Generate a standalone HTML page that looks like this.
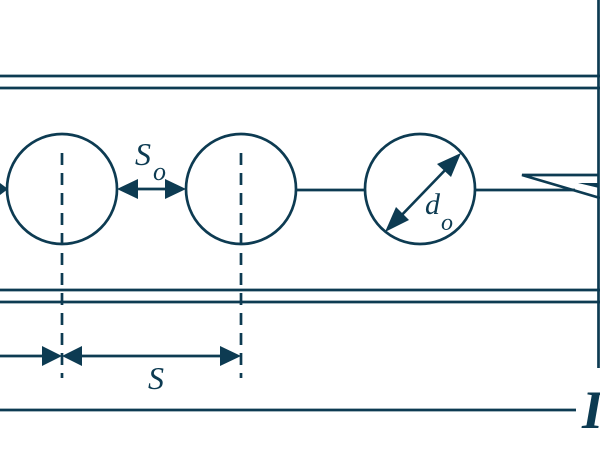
<!DOCTYPE html>
<html><head><style>html,body{margin:0;padding:0;background:#fff;width:600px;height:450px;overflow:hidden}</style></head>
<body>
<svg width="600" height="450" xmlns="http://www.w3.org/2000/svg">
<g stroke="#0d3b52" stroke-width="2.7" fill="none">
<line x1="0" y1="76" x2="600" y2="76"/>
<line x1="0" y1="88" x2="600" y2="88"/>
<line x1="0" y1="290" x2="600" y2="290"/>
<line x1="0" y1="302" x2="600" y2="302"/>
<line x1="598.5" y1="0" x2="598.5" y2="368"/>
<line x1="0" y1="410" x2="576" y2="410"/>
<circle cx="62" cy="189" r="55"/>
<circle cx="241" cy="189" r="55"/>
<circle cx="420" cy="189" r="55"/>
<line x1="296" y1="190" x2="365" y2="190"/>
<line x1="475" y1="190" x2="575" y2="190"/>
<polyline points="598,175 522,175 600,198"/>
<line x1="0" y1="189" x2="5" y2="189"/>
<line x1="62" y1="153" x2="62" y2="378" stroke-dasharray="12,8"/>
<line x1="241" y1="153" x2="241" y2="378" stroke-dasharray="12,8"/>
<line x1="0" y1="356" x2="50" y2="356"/>
<line x1="75" y1="356" x2="228" y2="356"/>
<line x1="130" y1="189" x2="172" y2="189"/>
<line x1="396" y1="221" x2="450" y2="165"/>
</g>
<g fill="#0d3b52">
<polygon points="578,183 599,183 599,188"/>
<polygon points="0,183 8,189 0,195"/>
<polygon points="62,356 42,346 42,366"/>
<polygon points="62,356 82,346 82,366"/>
<polygon points="241,356 220,346 220,366"/>
<polygon points="117,189 138,179 138,199"/>
<polygon points="186,189 165,179 165,199"/>
<polygon points="461,153 437,164 451,177"/>
<polygon points="385,232 396,207 409,220"/>
</g>
<g fill="#0d3b52" font-family="Liberation Serif, serif" font-style="italic">
<text x="135" y="165" font-size="32">S</text>
<text x="153" y="180" font-size="26">o</text>
<text x="425" y="214" font-size="30">d</text>
<text x="441" y="230" font-size="24">o</text>
<text x="148" y="389" font-size="32">S</text>
<text x="582" y="428" font-size="54" font-weight="bold">I</text>
</g>
</svg>
</body></html>
